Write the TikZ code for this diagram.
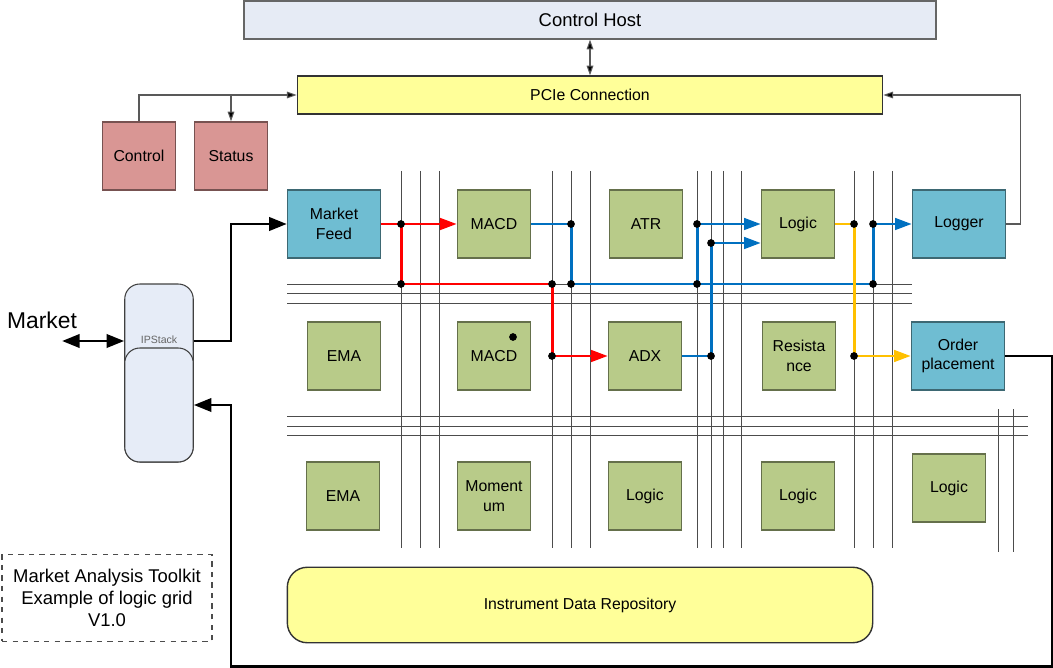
\documentclass[tikz,border=0pt]{standalone}
\usepackage{fontspec}
\setmainfont{Liberation Sans}
\usetikzlibrary{arrows.meta}

\definecolor{hostfill}{HTML}{E6EBF5}
\definecolor{pciefill}{HTML}{FFFF99}
\definecolor{redbox}{HTML}{D99694}
\definecolor{bluebox}{HTML}{6FBDD2}
\definecolor{greenbox}{HTML}{B8CB89}
\definecolor{stackfill}{HTML}{E6ECF7}
\definecolor{wirered}{HTML}{FF0000}
\definecolor{wireblue}{HTML}{0070C0}
\definecolor{wireyellow}{HTML}{FFC000}

\begin{document}
\begin{tikzpicture}[x=0.02cm,y=-0.02cm,
    box/.style={draw=#1!55!black, fill=#1, line width=0.8pt, minimum width=1.46cm,
      minimum height=1.36cm, inner sep=1pt, align=center, font=\fontsize{9}{11}\selectfont},
    widebox/.style={box=#1, minimum width=1.86cm},
    hostbox/.style={draw=black!60, fill=hostfill, line width=0.8pt, minimum width=13.84cm,
      minimum height=0.76cm, font=\fontsize{10.5}{12.5}\selectfont},
    pciebox/.style={draw=black!80, fill=pciefill, line width=0.8pt, minimum width=11.71cm,
      minimum height=0.76cm, font=\fontsize{9}{11}\selectfont},
    stackbox/.style={draw=black!75, fill=stackfill, line width=0.6pt, rounded corners=0.3cm,
      minimum width=1.37cm},
    bus/.style={draw=black!70, line width=0.45pt},
    thinwire/.style={draw=black!65, line width=0.6pt, >={Triangle[length=5.5pt,width=3.8pt,fill=black]}},
    thickwire/.style={draw=black, line width=1.7pt, >={Triangle[length=10pt,width=7.5pt]}},
    colwire/.style={draw=#1, line width=1.7pt, >={Triangle[length=9.5pt,width=6.5pt]}},
    dot/.style={fill=black}
  ]
  \useasboundingbox (0,0) rectangle (1053,668);

  \draw[bus] (401,171) to (401,548);
  \draw[bus] (420,171) to (420,548);
  \draw[bus] (439,171) to (439,548);
  \draw[bus] (552,171) to (552,548);
  \draw[bus] (571,171) to (571,548);
  \draw[bus] (590,171) to (590,548);
  \draw[bus] (697,171) to (697,548);
  \draw[bus] (711,171) to (711,548);
  \draw[bus] (723,171) to (723,548);
  \draw[bus] (741,171) to (741,548);
  \draw[bus] (854,171) to (854,548);
  \draw[bus] (873,171) to (873,548);
  \draw[bus] (892,171) to (892,548);
  \draw[bus] (998,409) to (998,552);
  \draw[bus] (1013,409) to (1013,552);
  \draw[bus] (287,284) to (912,284);
  \draw[bus] (287,293) to (912,293);
  \draw[bus] (287,303) to (912,303);
  \draw[bus] (287,416) to (1028,416);
  \draw[bus] (287,426) to (1028,426);
  \draw[bus] (287,435) to (1028,435);

  \draw
    (590,20) node[hostbox] (host){Control Host}
    (590,95) node[pciebox] (pcie){PCIe Connection}
    (139,156) node[box=redbox] (ctrl){Control}
    (231,156) node[box=redbox] (status){Status}
    (334,224) node[widebox=bluebox] (feed){Market\\Feed}
    (494,224) node[box=greenbox] (macdA){MACD}
    (646,224) node[box=greenbox] (atr){ATR}
    (798,224) node[box=greenbox] (logicA){Logic}
    (959,224) node[widebox=bluebox] (logger){Logger}
    (344,356) node[box=greenbox] (emaA){EMA}
    (494,356) node[box=greenbox] (macdB){MACD}
    (645,356) node[box=greenbox] (adx){ADX}
    (799,356) node[box=greenbox] (resist){Resista\\nce}
    (958,356) node[widebox=bluebox] (order){Order\\placement}
    (343,496) node[box=greenbox] (emaB){EMA}
    (494,496) node[box=greenbox] (mom){Moment\\um}
    (645,496) node[box=greenbox] (logicB){Logic}
    (798,496) node[box=greenbox] (logicC){Logic}
    (949,488) node[box=greenbox] (logicD){Logic}
    (580,605) node[draw=black!80, fill=pciefill, line width=0.8pt, rounded corners=0.4cm,
      minimum width=11.71cm, minimum height=1.51cm, font=\fontsize{9}{11}\selectfont] (repo){Instrument Data Repository}
    (107,598) node[draw=black!70, dashed, line width=0.6pt, minimum width=4.2cm, minimum height=1.73cm,
      align=center, font=\fontsize{10.5}{12.5}\selectfont] (note){Market Analysis Toolkit\\Example of logic grid\\V1.0}
    (159,373) node[stackbox, minimum height=3.56cm] (ipstack){}
    (159,405) node[stackbox, minimum height=2.28cm] (ipin){}
    (159,340) node[text=black!60, font=\fontsize{6}{7}\selectfont] (iplabel){IPStack}
    (42,320) node[font=\fontsize{13}{15}\selectfont] (mktlabel){Market};

  \coordinate (tap) at (status.north |- pcie.west);
  \coordinate (mkt) at (62,341);
  \coordinate (bend) at (231,666);
  \coordinate (r1) at (401,224);
  \coordinate (r2) at (401,284);
  \coordinate (r3) at (552,284);
  \coordinate (r4) at (552,356);
  \coordinate (b1) at (571,224);
  \coordinate (b2) at (571,284);
  \coordinate (b3) at (697,224);
  \coordinate (b4) at (697,284);
  \coordinate (b5) at (711,243);
  \coordinate (b6) at (711,356);
  \coordinate (b7) at (873,224);
  \coordinate (b8) at (873,284);
  \coordinate (y1) at (854,224);
  \coordinate (y2) at (854,356);

  \begin{scope}[thinwire]
    \draw[<->] (host.south) to (pcie.north);
    \draw[->] (ctrl.north) |- (pcie.west);
    \draw[->] (tap) to (status.north);
    \draw[->] (logger.east) -- ++(14,0) |- (pcie.east);
  \end{scope}
  \begin{scope}[thickwire]
    \draw[<->] (mkt) to (mkt -| ipstack.west);
    \draw[->] (mkt -| ipstack.east) -| (bend |- feed.west) -- (feed.west);
    \draw[->] (order.east) -- ++(47,0) |- (bend) |- (ipin.east);
  \end{scope}
  \begin{scope}[colwire=wirered]
    \draw[->] (feed.east) to (macdA.west);
    \draw (r1) to (r2) to (r3) to (r4);
    \draw[->] (r4) to (adx.west);
  \end{scope}
  \begin{scope}[colwire=wireblue]
    \draw (macdA.east) to (b1) to (b2) to (b8) to (b7);
    \draw[->] (b7) to (logger.west);
    \draw[->] (b3) to (logicA.west);
    \draw (b3) to (b4);
    \draw[->] (b5) to (b5 -| logicA.west);
    \draw (b5) to (b6) to (adx.east);
  \end{scope}
  \begin{scope}[colwire=wireyellow]
    \draw (logicA.east) to (y1) to (y2);
    \draw[->] (y2) to (order.west);
  \end{scope}

  \fill[dot] (r1) circle (2.2pt);
  \fill[dot] (r2) circle (2.2pt);
  \fill[dot] (r3) circle (2.2pt);
  \fill[dot] (r4) circle (2.2pt);
  \fill[dot] (b1) circle (2.2pt);
  \fill[dot] (b2) circle (2.2pt);
  \fill[dot] (b3) circle (2.2pt);
  \fill[dot] (b4) circle (2.2pt);
  \fill[dot] (b5) circle (2.2pt);
  \fill[dot] (b6) circle (2.2pt);
  \fill[dot] (b7) circle (2.2pt);
  \fill[dot] (b8) circle (2.2pt);
  \fill[dot] (y1) circle (2.2pt);
  \fill[dot] (y2) circle (2.2pt);
  \fill[dot] (513,337) circle (2.2pt);
\end{tikzpicture}
\end{document}
